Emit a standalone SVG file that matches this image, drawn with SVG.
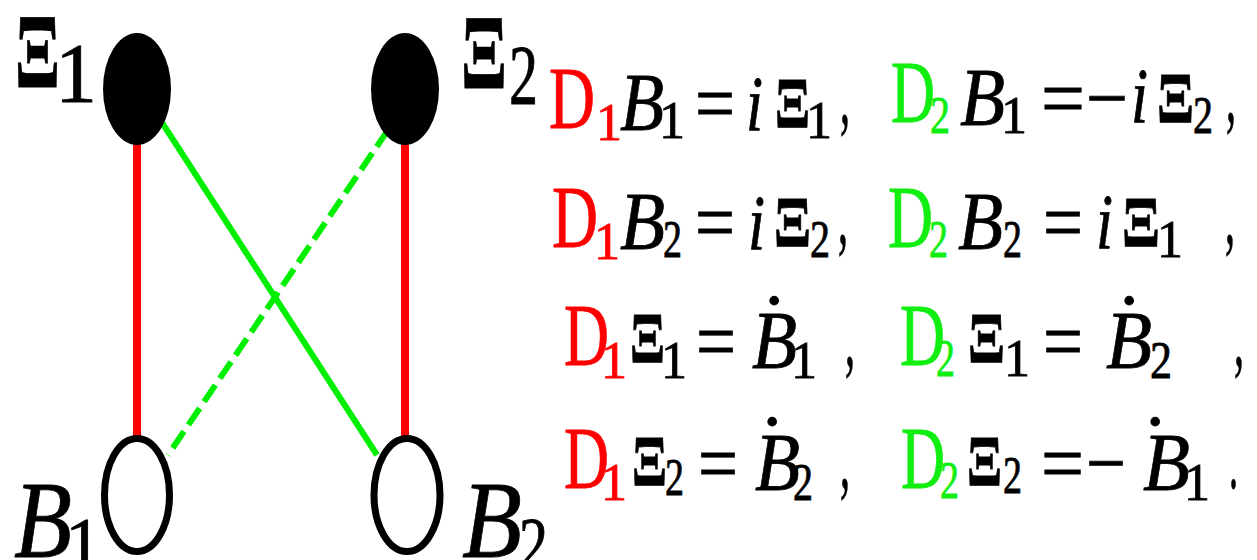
<svg xmlns="http://www.w3.org/2000/svg" width="1257" height="560" viewBox="0 0 1257 560">
<style>
text{font-family:"Liberation Serif","DejaVu Serif",serif;fill:#000;stroke:#000;stroke-width:0.8}
.it{font-style:italic}
.xi{font-weight:bold}
.r{fill:#ff0000;stroke:#ff0000}
.g{fill:#11ee11;stroke:#11ee11}
.D{font-size:88px}
.Bf{font-size:83px;font-style:italic}
.sub{font-size:52px}
.op{font-size:83px}
.dot{font-size:83px;text-anchor:middle}
.red{stroke:#ff0000;stroke-width:8;fill:none}
.grn{stroke:#00ee00;stroke-width:6;fill:none}
</style>
<rect width="1257" height="560" fill="#fff"/>
<g id="connectors">
<line class="red" x1="137" y1="120" x2="137" y2="440"/>
<line class="red" x1="405" y1="120" x2="405" y2="440"/>
<line class="grn" x1="150" y1="104" x2="377" y2="455"/>
<line class="grn" x1="388" y1="130" x2="168" y2="455" stroke-dasharray="20 8"/>
</g>
<g id="node-xi1">
<ellipse cx="137" cy="89" rx="34" ry="56" fill="#000"/>
<text x="15" y="87" font-size="106" textLength="45" lengthAdjust="spacingAndGlyphs" class="xi">Ξ</text>
<text x="55" y="102" font-size="84">1</text>
</g>
<g id="node-xi2">
<ellipse cx="405" cy="89" rx="34" ry="56" fill="#000"/>
<text x="461" y="88" font-size="106" textLength="46" lengthAdjust="spacingAndGlyphs" class="xi">Ξ</text>
<text x="509" y="104" font-size="84" textLength="29" lengthAdjust="spacingAndGlyphs">2</text>
</g>
<g id="node-b1">
<ellipse cx="137" cy="495" rx="32.5" ry="56.5" fill="#fff" stroke="#000" stroke-width="7"/>
<text x="14" y="557" font-size="110" textLength="58" lengthAdjust="spacingAndGlyphs" class="it">B</text>
<text x="65" y="569" font-size="74">1</text>
</g>
<g id="node-b2">
<ellipse cx="407" cy="495" rx="33" ry="56.5" fill="#fff" stroke="#000" stroke-width="7"/>
<text x="462" y="557" font-size="110" textLength="60" lengthAdjust="spacingAndGlyphs" class="it">B</text>
<text x="519" y="569" font-size="74" textLength="29" lengthAdjust="spacingAndGlyphs">2</text>
</g>
<g id="equations">
<!-- row 1 -->
<text class="D r" x="549" y="128" textLength="46" lengthAdjust="spacingAndGlyphs">D</text>
<text class="sub r" x="596" y="140">1</text>
<text class="Bf" x="620" y="130" textLength="44" lengthAdjust="spacingAndGlyphs">B</text>
<text class="sub" x="659" y="138">1</text>
<text class="op" x="695" y="131" textLength="40" lengthAdjust="spacingAndGlyphs">=</text>
<text class="it" font-size="78" x="746" y="130" textLength="17" lengthAdjust="spacingAndGlyphs">i</text>
<text class="xi" font-size="71" x="775" y="127" textLength="35" lengthAdjust="spacingAndGlyphs">Ξ</text>
<text class="sub" x="806" y="138">1</text>
<text class="op" x="840" y="124" textLength="10" lengthAdjust="spacingAndGlyphs">,</text>
<text class="D g" x="891" y="122" textLength="44" lengthAdjust="spacingAndGlyphs">D</text>
<text class="sub g" x="930" y="133" textLength="20" lengthAdjust="spacingAndGlyphs">2</text>
<text class="Bf" x="960" y="125" textLength="45" lengthAdjust="spacingAndGlyphs">B</text>
<text class="sub" x="1001" y="133">1</text>
<text class="op" x="1041" y="126" textLength="44" lengthAdjust="spacingAndGlyphs">=</text>
<text class="op" x="1086" y="126" textLength="42" lengthAdjust="spacingAndGlyphs">−</text>
<text class="it" font-size="78" x="1131" y="122" textLength="17" lengthAdjust="spacingAndGlyphs">i</text>
<text class="xi" font-size="71" x="1157" y="122" textLength="37" lengthAdjust="spacingAndGlyphs">Ξ</text>
<text class="sub" x="1193" y="133" textLength="20" lengthAdjust="spacingAndGlyphs">2</text>
<text class="op" x="1226" y="122" textLength="10" lengthAdjust="spacingAndGlyphs">,</text>
<!-- row 2 -->
<text class="D r" x="552" y="247" textLength="46" lengthAdjust="spacingAndGlyphs">D</text>
<text class="sub r" x="594" y="259">1</text>
<text class="Bf" x="620" y="249" textLength="45" lengthAdjust="spacingAndGlyphs">B</text>
<text class="sub" x="663" y="257" textLength="19" lengthAdjust="spacingAndGlyphs">2</text>
<text class="op" x="695" y="250" textLength="40" lengthAdjust="spacingAndGlyphs">=</text>
<text class="it" font-size="78" x="748" y="249" textLength="17" lengthAdjust="spacingAndGlyphs">i</text>
<text class="xi" font-size="71" x="774" y="246" textLength="37" lengthAdjust="spacingAndGlyphs">Ξ</text>
<text class="sub" x="810" y="257" textLength="20" lengthAdjust="spacingAndGlyphs">2</text>
<text class="op" x="838" y="244" textLength="10" lengthAdjust="spacingAndGlyphs">,</text>
<text class="D g" x="888" y="247" textLength="45" lengthAdjust="spacingAndGlyphs">D</text>
<text class="sub g" x="929" y="257" textLength="19" lengthAdjust="spacingAndGlyphs">2</text>
<text class="Bf" x="958" y="249" textLength="45" lengthAdjust="spacingAndGlyphs">B</text>
<text class="sub" x="1003" y="257" textLength="19" lengthAdjust="spacingAndGlyphs">2</text>
<text class="op" x="1043" y="250" textLength="40" lengthAdjust="spacingAndGlyphs">=</text>
<text class="it" font-size="78" x="1096" y="248" textLength="17" lengthAdjust="spacingAndGlyphs">i</text>
<text class="xi" font-size="71" x="1122" y="246" textLength="38" lengthAdjust="spacingAndGlyphs">Ξ</text>
<text class="sub" x="1157" y="257">1</text>
<text class="op" x="1225" y="244" textLength="10" lengthAdjust="spacingAndGlyphs">,</text>
<!-- row 3 -->
<text class="D r" x="564" y="365" textLength="45" lengthAdjust="spacingAndGlyphs">D</text>
<text class="sub r" x="601" y="378">1</text>
<text class="xi" font-size="71" x="630" y="362" textLength="35" lengthAdjust="spacingAndGlyphs">Ξ</text>
<text class="sub" x="661" y="378">1</text>
<text class="op" x="696" y="369" textLength="40" lengthAdjust="spacingAndGlyphs">=</text>
<text class="Bf" x="752" y="368" textLength="45" lengthAdjust="spacingAndGlyphs">B</text>
<text class="dot" x="774" y="351">˙</text>
<text class="sub" x="791" y="378">1</text>
<text class="op" x="845" y="366" textLength="10" lengthAdjust="spacingAndGlyphs">,</text>
<text class="D g" x="900" y="365" textLength="45" lengthAdjust="spacingAndGlyphs">D</text>
<text class="sub g" x="936" y="376" textLength="19" lengthAdjust="spacingAndGlyphs">2</text>
<text class="xi" font-size="71" x="968" y="362" textLength="37" lengthAdjust="spacingAndGlyphs">Ξ</text>
<text class="sub" x="1004" y="376">1</text>
<text class="op" x="1043" y="369" textLength="40" lengthAdjust="spacingAndGlyphs">=</text>
<text class="Bf" x="1106" y="368" textLength="46" lengthAdjust="spacingAndGlyphs">B</text>
<text class="dot" x="1129" y="351">˙</text>
<text class="sub" x="1150" y="378" textLength="22" lengthAdjust="spacingAndGlyphs">2</text>
<text class="op" x="1234" y="366" textLength="10" lengthAdjust="spacingAndGlyphs">,</text>
<!-- row 4 -->
<text class="D r" x="564" y="488" textLength="45" lengthAdjust="spacingAndGlyphs">D</text>
<text class="sub r" x="601" y="500">1</text>
<text class="xi" font-size="71" x="632" y="485" textLength="35" lengthAdjust="spacingAndGlyphs">Ξ</text>
<text class="sub" x="665" y="495" textLength="19" lengthAdjust="spacingAndGlyphs">2</text>
<text class="op" x="698" y="491" textLength="40" lengthAdjust="spacingAndGlyphs">=</text>
<text class="Bf" x="755" y="490" textLength="45" lengthAdjust="spacingAndGlyphs">B</text>
<text class="dot" x="772" y="472">˙</text>
<text class="sub" x="793" y="500" textLength="20" lengthAdjust="spacingAndGlyphs">2</text>
<text class="op" x="840" y="488" textLength="10" lengthAdjust="spacingAndGlyphs">,</text>
<text class="D g" x="901" y="488" textLength="44" lengthAdjust="spacingAndGlyphs">D</text>
<text class="sub g" x="940" y="498" textLength="19" lengthAdjust="spacingAndGlyphs">2</text>
<text class="xi" font-size="71" x="967" y="485" textLength="35" lengthAdjust="spacingAndGlyphs">Ξ</text>
<text class="sub" x="1003" y="493" textLength="19" lengthAdjust="spacingAndGlyphs">2</text>
<text class="op" x="1041" y="491" textLength="43" lengthAdjust="spacingAndGlyphs">=</text>
<text class="op" x="1086" y="491" textLength="40" lengthAdjust="spacingAndGlyphs">−</text>
<text class="Bf" x="1143" y="490" textLength="47" lengthAdjust="spacingAndGlyphs">B</text>
<text class="dot" x="1155" y="472">˙</text>
<text class="sub" x="1184" y="500">1</text>
<text class="op" x="1229" y="488" textLength="9" lengthAdjust="spacingAndGlyphs">.</text>
</g>
</svg>
